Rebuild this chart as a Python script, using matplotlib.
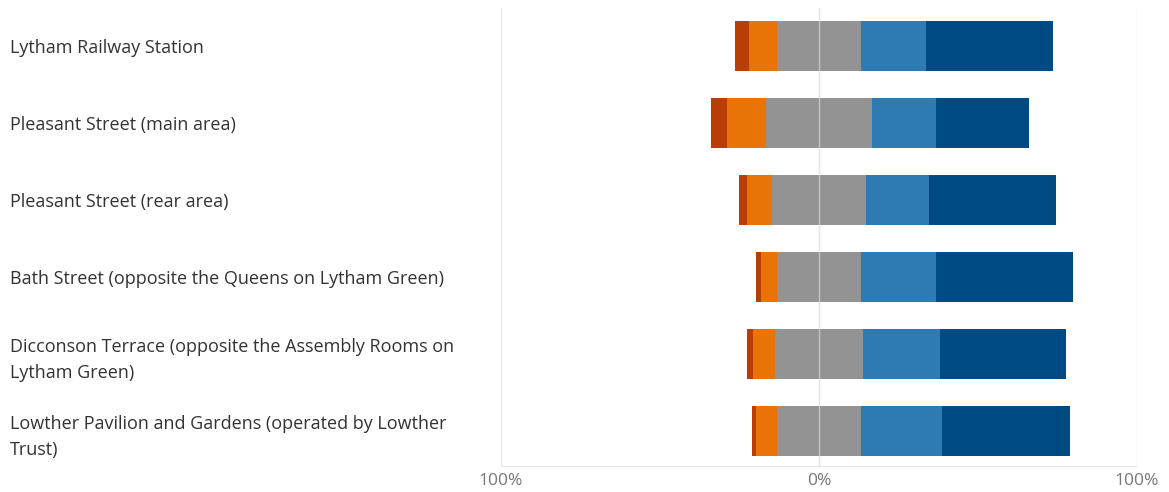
import numpy as np
import matplotlib
matplotlib.use("Agg")
import matplotlib.pyplot as plt

plt.rcParams["font.family"] = ["Open Sans", "DejaVu Sans"]

# data (percent of responses)
locations = [
    "Lytham Railway Station",
    "Pleasant Street (main area)",
    "Pleasant Street (rear area)",
    "Bath Street (opposite the Queens on Lytham Green)",
    "Dicconson Terrace (opposite the Assembly Rooms on\nLytham Green)",
    "Lowther Pavilion and Gardens (operated by Lowther\nTrust)",
]
strong_neg = [4.4, 5.0, 2.5, 1.6, 1.9, 1.3]
neg = [8.9, 12.3, 7.9, 5.2, 7.0, 6.8]
neutral = [26.2, 33.1, 29.3, 26.2, 27.5, 26.2]
pos = [20.7, 20.4, 19.8, 23.8, 24.2, 25.6]
strong_pos = [39.7, 29.1, 40.2, 43.0, 39.7, 40.3]

colors = ["#b93d06", "#ea7307", "#939393", "#2e7ab2", "#004a84"]

fig = plt.figure(figsize=(11.69, 4.92), dpi=100)
ax = fig.add_axes([0.4286, 0.0508, 0.5440, 0.9332])

y = np.arange(len(locations))
sn = np.array(strong_neg)
ng = np.array(neg)
nu = np.array(neutral)
ps = np.array(pos)
sp = np.array(strong_pos)

# diverging stack: neutral centred on 0
start = -nu / 2 - ng - sn
segments = [sn, ng, nu, ps, sp]
left = start.copy()
for seg, c in zip(segments, colors):
    ax.barh(y, seg, left=left, height=0.65, color=c, edgecolor="none", zorder=2)
    left = left + seg

ax.set_xlim(-100, 100)
ax.set_ylim(5.47, -0.49)

ax.set_xticks([-100, 0, 100])
ax.set_xticklabels(["100%", "0%", "100%"], color="#777777", fontsize=12.5)
ax.tick_params(axis="x", length=0, pad=4)
for xv in [-100, 100]:
    ax.axvline(xv, color="#e8e8e8", lw=1, zorder=1)
ax.axvline(0, color="#d8d8d8", lw=1, alpha=0.7, zorder=3)
ax.axhline(5.47, color="#e8e8e8", lw=1.5, zorder=1)

ax.set_yticks(y)
ax.set_yticklabels(locations, fontsize=13, color="#333333", ha="left", linespacing=1.6)
ax.tick_params(axis="y", length=0, pad=491 * 0.72)

for s in ax.spines.values():
    s.set_visible(False)

fig.savefig("out.png", dpi=100)
